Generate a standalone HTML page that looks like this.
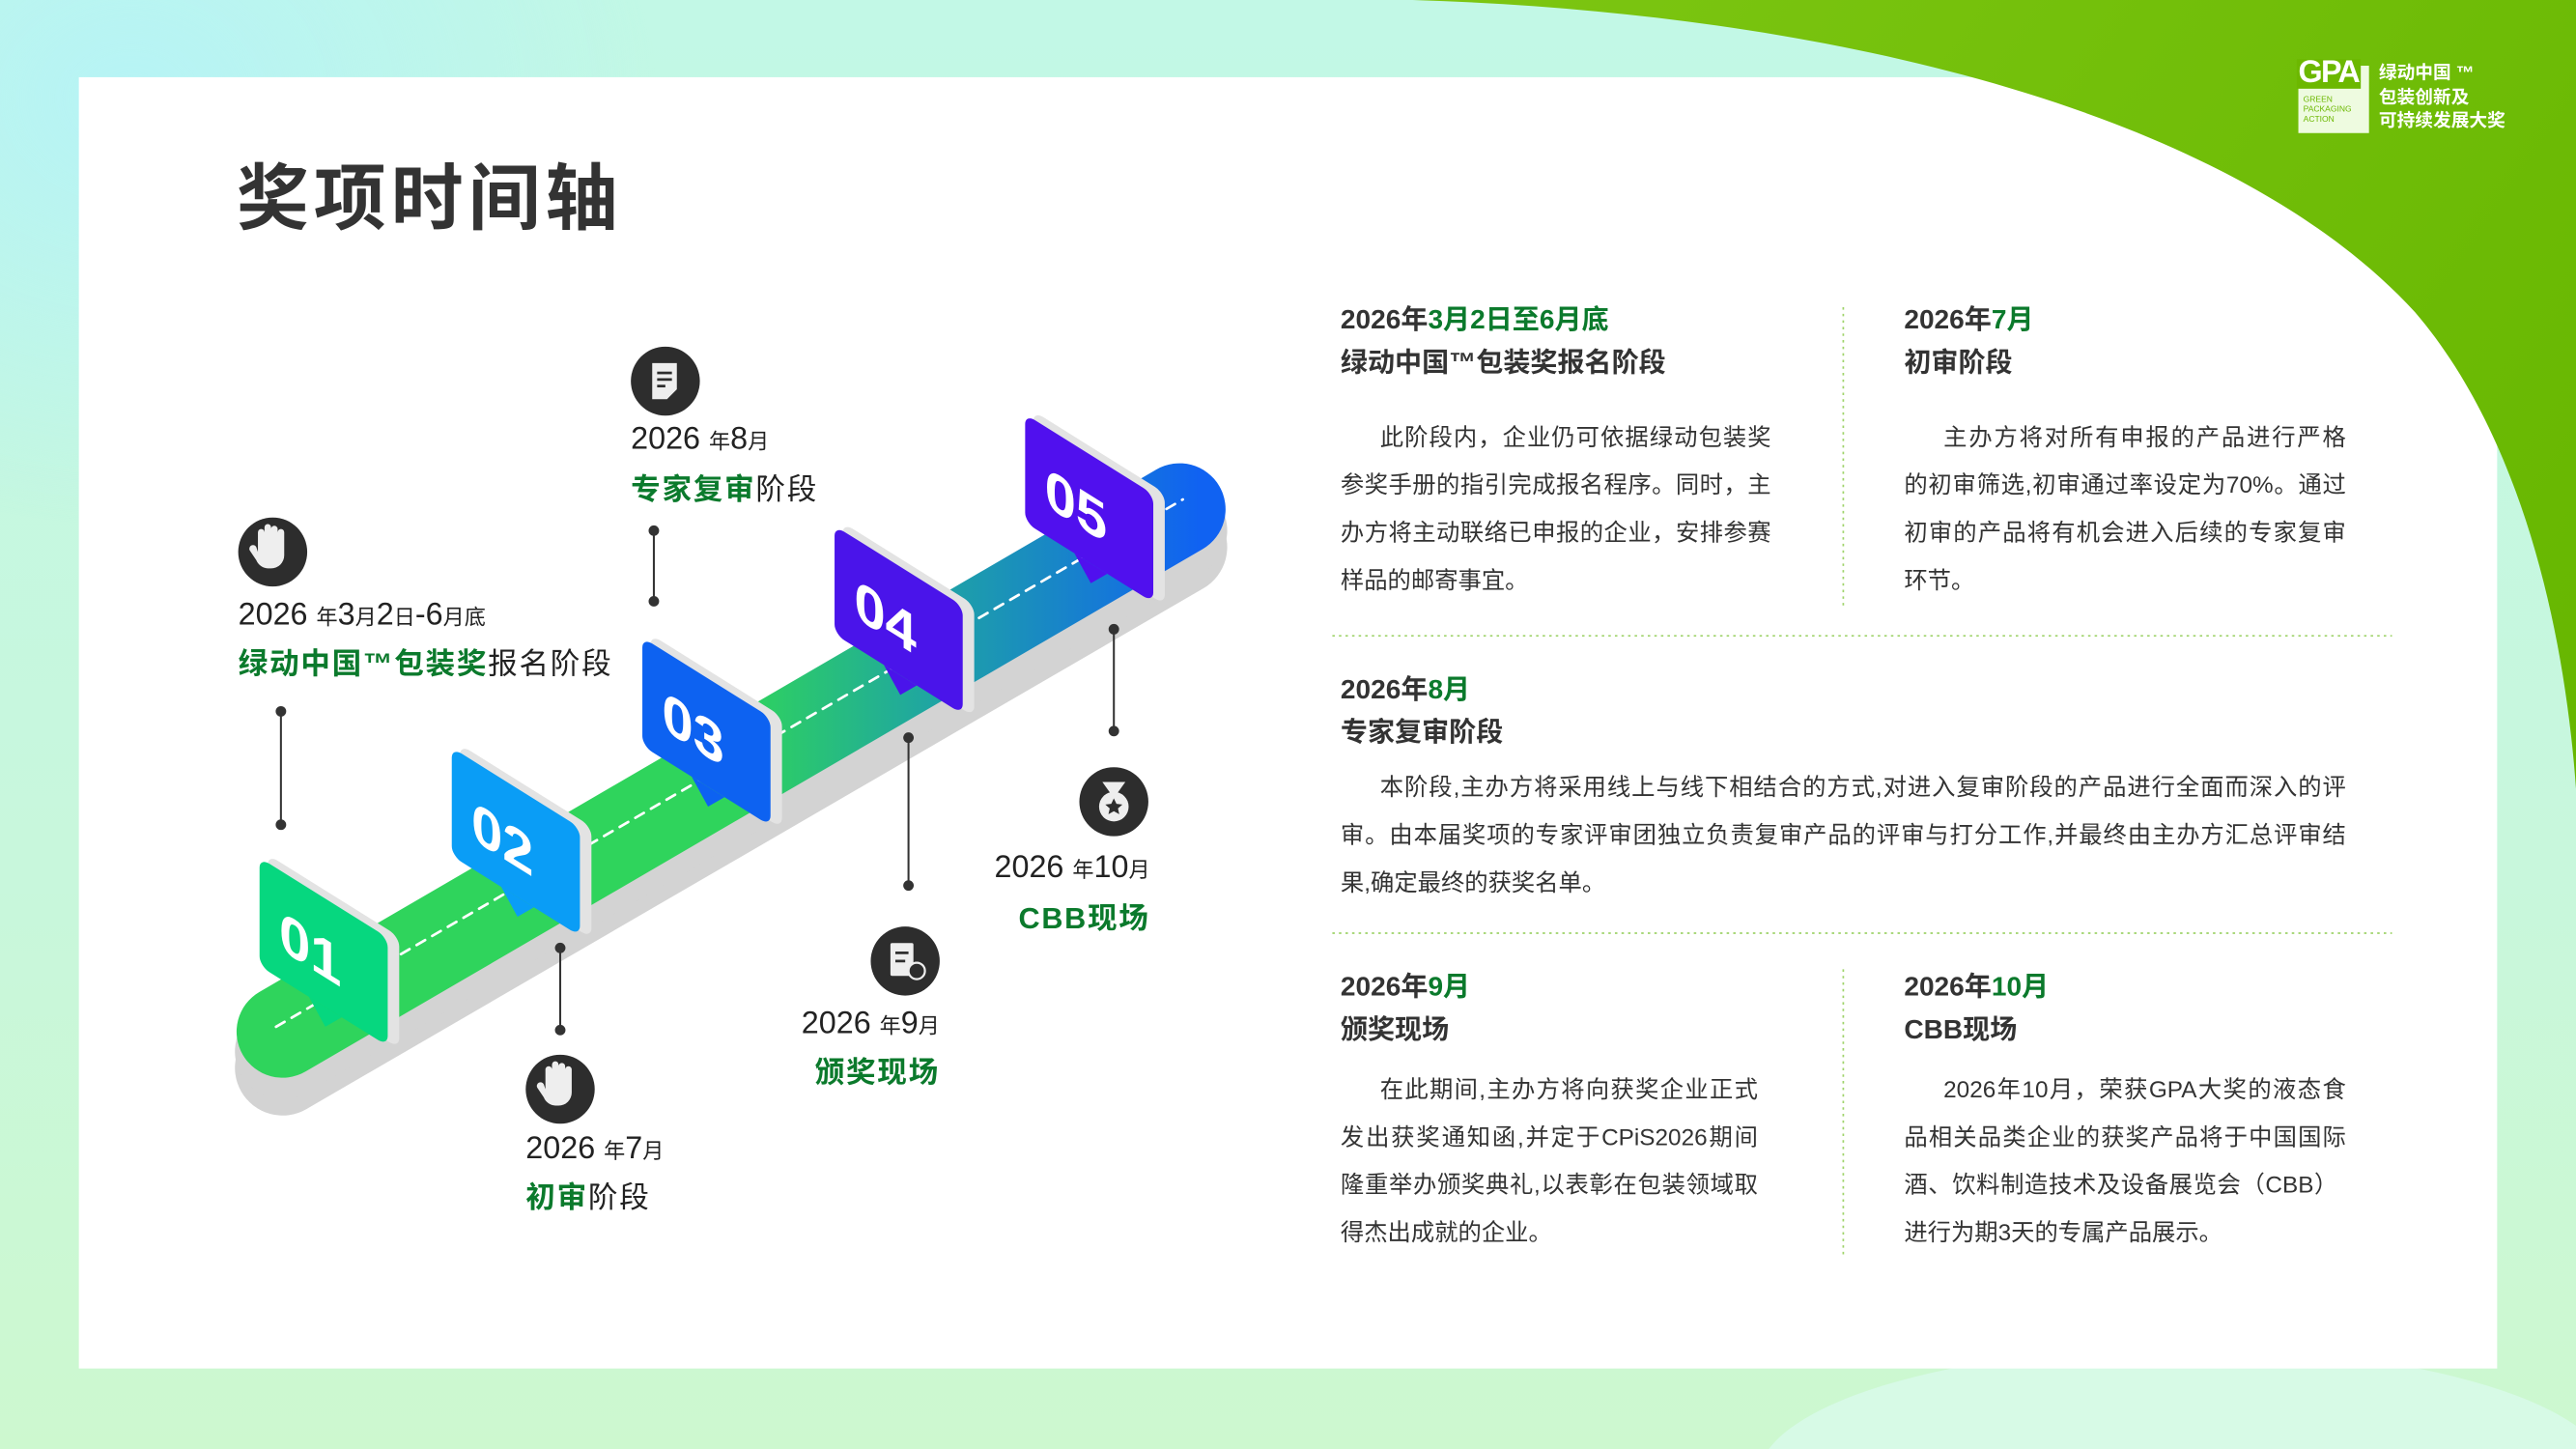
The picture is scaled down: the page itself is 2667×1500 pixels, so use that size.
<!DOCTYPE html>
<html><head><meta charset="utf-8"><style>
*{margin:0;padding:0;box-sizing:border-box}
html,body{width:2667px;height:1500px;overflow:hidden}
body{background:linear-gradient(180deg,#c2f8e6 0%,#c8f7dc 60%,#cdf8cf 100%);font-family:"Liberation Sans","Noto Sans CJK SC",sans-serif;color:#333;position:relative}
#w{position:absolute;left:0;top:0;width:1568px;height:882px;overflow:hidden;transform:scale(1.70089,1.70068);transform-origin:0 0}
.a{position:absolute;white-space:nowrap}
.g{color:#0b7a2c}
.h{font-weight:bold;font-size:16.5px;color:#333}
.ln{position:absolute;font-size:14.3px;height:20px;line-height:20px;text-align:justify;text-align-last:justify;white-space:nowrap;color:#333}
.lbl{font-size:19px;color:#222}
.lbl small{font-size:13px}
.lb2{font-size:18px;font-weight:bold;letter-spacing:1px}
</style></head><body><div id="w">
<svg class="a" style="left:0;top:0" width="1568" height="882">
<defs>
<radialGradient id="tl" cx="0" cy="0" r="1" gradientUnits="userSpaceOnUse" gradientTransform="translate(80,60) scale(320,260)"><stop offset="0" stop-color="#b6f3f5"/><stop offset="1" stop-color="#b6f3f5" stop-opacity="0"/></radialGradient>
<linearGradient id="gg" x1="870" y1="0" x2="1568" y2="480" gradientUnits="userSpaceOnUse"><stop offset="0" stop-color="#7dc612"/><stop offset="1" stop-color="#66b600"/></linearGradient>
<linearGradient id="bar" x1="300" y1="0" x2="730" y2="0" gradientUnits="userSpaceOnUse"><stop offset="0" stop-color="#2fd45c"/><stop offset="0.35" stop-color="#2fd45c"/><stop offset="0.62" stop-color="#1fa5a2"/><stop offset="1" stop-color="#1062f2"/></linearGradient>
</defs>
<rect width="1568" height="882" fill="url(#tl)"/>
<ellipse cx="1330" cy="900" rx="260" ry="80" fill="#dcfbef" opacity="0.7"/>
<rect x="48" y="47" width="1472" height="786" fill="#fff"/>
<path d="M860,0 C1120,8 1360,70 1470,190 C1530,260 1560,370 1568,480 L1568,0 Z" fill="url(#gg)"/>
<g stroke-linecap="round" fill="none">
<line x1="172" y1="650" x2="718" y2="333" stroke="#d3d3d3" stroke-width="58"/>
<line x1="172" y1="640" x2="718" y2="323" stroke="#d3d3d3" stroke-width="58"/>
<line x1="172" y1="628" x2="718" y2="310" stroke="url(#bar)" stroke-width="56"/>
<line x1="168" y1="625" x2="720" y2="304" stroke="#fff" stroke-width="1.6" stroke-dasharray="6,5"/>
</g>
<g stroke="#333" stroke-width="1.2" fill="#333">
<line x1="171" y1="433" x2="171" y2="502"/><circle cx="171" cy="433" r="2.6"/><circle cx="171" cy="502" r="2.6"/>
<line x1="341" y1="577" x2="341" y2="627"/><circle cx="341" cy="577" r="2.6"/><circle cx="341" cy="627" r="2.6"/>
<line x1="398" y1="323" x2="398" y2="366"/><circle cx="398" cy="323" r="2.6"/><circle cx="398" cy="366" r="2.6"/>
<line x1="553" y1="449" x2="553" y2="539"/><circle cx="553" cy="449" r="2.6"/><circle cx="553" cy="539" r="2.6"/>
<line x1="678" y1="383" x2="678" y2="445"/><circle cx="678" cy="383" r="2.6"/><circle cx="678" cy="445" r="2.6"/>
</g>
<g font-family="Liberation Sans,sans-serif" font-weight="bold" font-size="34" fill="#fff">
<g transform="translate(158,522) skewY(32)"><rect x="5" y="-5" width="80" height="68" rx="6" fill="#e3e3e3"/><rect width="78" height="66" rx="6" fill="#06d77f"/><path d="M30,66 L40,78 L50,66Z" fill="#06d77f"/><text x="12" y="48">01</text></g>
<g transform="translate(275,455) skewY(32)"><rect x="5" y="-5" width="80" height="68" rx="6" fill="#e3e3e3"/><rect width="78" height="66" rx="6" fill="#0a9df6"/><path d="M30,66 L40,78 L50,66Z" fill="#0a9df6"/><text x="12" y="48">02</text></g>
<g transform="translate(391,388) skewY(32)"><rect x="5" y="-5" width="80" height="68" rx="6" fill="#e3e3e3"/><rect width="78" height="66" rx="6" fill="#0d62f1"/><path d="M30,66 L40,78 L50,66Z" fill="#0d62f1"/><text x="12" y="48">03</text></g>
<g transform="translate(508,320) skewY(32)"><rect x="5" y="-5" width="80" height="68" rx="6" fill="#e3e3e3"/><rect width="78" height="66" rx="6" fill="#4a14ea"/><path d="M30,66 L40,78 L50,66Z" fill="#4a14ea"/><text x="12" y="48">04</text></g>
<g transform="translate(624,252) skewY(32)"><rect x="5" y="-5" width="80" height="68" rx="6" fill="#e3e3e3"/><rect width="78" height="66" rx="6" fill="#5010ee"/><path d="M30,66 L40,78 L50,66Z" fill="#5010ee"/><text x="12" y="48">05</text></g>
</g>
<g fill="#2d2d2d"><circle cx="166" cy="336" r="21"/><circle cx="405" cy="232" r="21"/><circle cx="341" cy="663" r="21"/><circle cx="551" cy="585" r="21"/><circle cx="678" cy="488" r="21"/></g>
<g fill="#eee">
<path d="M157,336 v-12 a2,2 0 0 1 4,0 v-3 a2,2 0 0 1 4,0 v1 a2,2 0 0 1 4,0 v2 a2,2 0 0 1 4,0 v14 a8,8 0 0 1 -8,8 h-2 a8,8 0 0 1 -7,-5 l-4,-6 a2,2 0 0 1 4,-2z"/>
<path d="M332,663 v-12 a2,2 0 0 1 4,0 v-3 a2,2 0 0 1 4,0 v1 a2,2 0 0 1 4,0 v2 a2,2 0 0 1 4,0 v14 a8,8 0 0 1 -8,8 h-2 a8,8 0 0 1 -7,-5 l-4,-6 a2,2 0 0 1 4,-2z"/>
<path d="M397,221 h15 v16 l-6,6 h-9z"/>
<rect x="542" y="574" width="14" height="20" rx="1"/>
<circle cx="678" cy="491" r="9"/><path d="M671,476 l5,7 h4 l5,-7z"/>
</g>
<g stroke="#2d2d2d" stroke-width="1.6"><line x1="400" y1="227" x2="409" y2="227"/><line x1="400" y1="231" x2="409" y2="231"/><line x1="400" y1="235" x2="405" y2="235"/>
<line x1="545" y1="580" x2="553" y2="580"/><line x1="545" y1="585" x2="551" y2="585"/></g>
<circle cx="558" cy="591" r="5" fill="#2d2d2d" stroke="#eee" stroke-width="1.3"/>
<path d="M678,486 l1.6,3.3 3.6,.4 -2.7,2.4 .8,3.5 -3.3,-1.8 -3.3,1.8 .8,-3.5 -2.7,-2.4 3.6,-.4z" fill="#2d2d2d"/>
<g stroke="#9fd36a" stroke-width="1" stroke-dasharray="1.5,2.5">
<line x1="811" y1="387" x2="1456" y2="387"/><line x1="811" y1="568" x2="1456" y2="568"/>
<line x1="1122" y1="187" x2="1122" y2="370"/><line x1="1122" y1="590" x2="1122" y2="765"/>
</g>
</svg>
<div class="a" style="left:1399px;top:40px;width:43px;height:41px;background:#eefbe0"></div>
<div class="a" style="left:1398px;top:36px;font-size:19px;font-weight:bold;color:#fff;letter-spacing:-1px;background:#6cb800;padding:0 1px;line-height:18px">GPA</div>
<div class="a" style="left:1402px;top:58px;font-size:5px;line-height:6px;color:#6cb800">GREEN<br>PACKAGING<br>ACTION</div>
<div class="a" style="left:1448px;top:38px;font-size:11px;line-height:14.5px;font-weight:bold;color:#fff">绿动中国 ™<br>包装创新及<br>可持续发展大奖</div>
<div class="a" style="left:144px;top:92px;font-size:44px;font-weight:bold;color:#333;letter-spacing:3px;line-height:60px">奖项时间轴</div>
<div class="a lbl" style="left:145px;top:364px">2026 <small>年</small>3<small>月</small>2<small>日</small>-6<small>月底</small></div>
<div class="a lb2" style="left:145px;top:390px"><span class="g">绿动中国™包装奖</span><span style="font-weight:normal;color:#222">报名阶段</span></div>
<div class="a lbl" style="left:384px;top:257px">2026 <small>年</small>8<small>月</small></div>
<div class="a lb2" style="left:384px;top:284px"><span class="g">专家复审</span><span style="font-weight:normal;color:#222">阶段</span></div>
<div class="a lbl" style="left:320px;top:689px">2026 <small>年</small>7<small>月</small></div>
<div class="a lb2" style="left:320px;top:715px"><span class="g">初审</span><span style="font-weight:normal;color:#222">阶段</span></div>
<div class="a lbl" style="right:996px;top:613px">2026 <small>年</small>9<small>月</small></div>
<div class="a lb2 g" style="right:996px;top:639px">颁奖现场</div>
<div class="a lbl" style="right:868px;top:518px">2026 <small>年</small>10<small>月</small></div>
<div class="a lb2 g" style="right:868px;top:545px">CBB现场</div>
<div class="a h" style="left:816px;top:181px">2026年<span class="g">3月2日至6月底</span></div>
<div class="a h" style="left:816px;top:207px">绿动中国™包装奖报名阶段</div>
<div class="ln" style="left:840px;top:257px;width:238px">此阶段内，企业仍可依据绿动包装奖</div>
<div class="ln" style="left:816px;top:286px;width:262px">参奖手册的指引完成报名程序。同时，主</div>
<div class="ln" style="left:816px;top:315px;width:262px">办方将主动联络已申报的企业，安排参赛</div>
<div class="a" style="left:816px;top:344px;font-size:14.3px;line-height:20px">样品的邮寄事宜。</div>
<div class="a h" style="left:1159px;top:181px">2026年<span class="g">7月</span></div>
<div class="a h" style="left:1159px;top:207px">初审阶段</div>
<div class="ln" style="left:1183px;top:257px;width:245px">主办方将对所有申报的产品进行严格</div>
<div class="ln" style="left:1159px;top:286px;width:269px">的初审筛选,初审通过率设定为70%。通过</div>
<div class="ln" style="left:1159px;top:315px;width:269px">初审的产品将有机会进入后续的专家复审</div>
<div class="a" style="left:1159px;top:344px;font-size:14.3px;line-height:20px">环节。</div>
<div class="a h" style="left:816px;top:406px">2026年<span class="g">8月</span></div>
<div class="a h" style="left:816px;top:432px">专家复审阶段</div>
<div class="ln" style="left:840px;top:470px;width:588px">本阶段,主办方将采用线上与线下相结合的方式,对进入复审阶段的产品进行全面而深入的评</div>
<div class="ln" style="left:816px;top:499px;width:612px">审。由本届奖项的专家评审团独立负责复审产品的评审与打分工作,并最终由主办方汇总评审结</div>
<div class="a" style="left:816px;top:528px;font-size:14.3px;line-height:20px">果,确定最终的获奖名单。</div>
<div class="a h" style="left:816px;top:587px">2026年<span class="g">9月</span></div>
<div class="a h" style="left:816px;top:613px">颁奖现场</div>
<div class="ln" style="left:840px;top:654px;width:230px">在此期间,主办方将向获奖企业正式</div>
<div class="ln" style="left:816px;top:683px;width:254px">发出获奖通知函,并定于CPiS2026期间</div>
<div class="ln" style="left:816px;top:712px;width:254px">隆重举办颁奖典礼,以表彰在包装领域取</div>
<div class="a" style="left:816px;top:741px;font-size:14.3px;line-height:20px">得杰出成就的企业。</div>
<div class="a h" style="left:1159px;top:587px">2026年<span class="g">10月</span></div>
<div class="a h" style="left:1159px;top:613px">CBB现场</div>
<div class="ln" style="left:1183px;top:654px;width:245px">2026年10月，荣获GPA大奖的液态食</div>
<div class="ln" style="left:1159px;top:683px;width:269px">品相关品类企业的获奖产品将于中国国际</div>
<div class="ln" style="left:1159px;top:712px;width:264px">酒、饮料制造技术及设备展览会（CBB）</div>
<div class="a" style="left:1159px;top:741px;font-size:14.3px;line-height:20px">进行为期3天的专属产品展示。</div>
</div></body></html>
